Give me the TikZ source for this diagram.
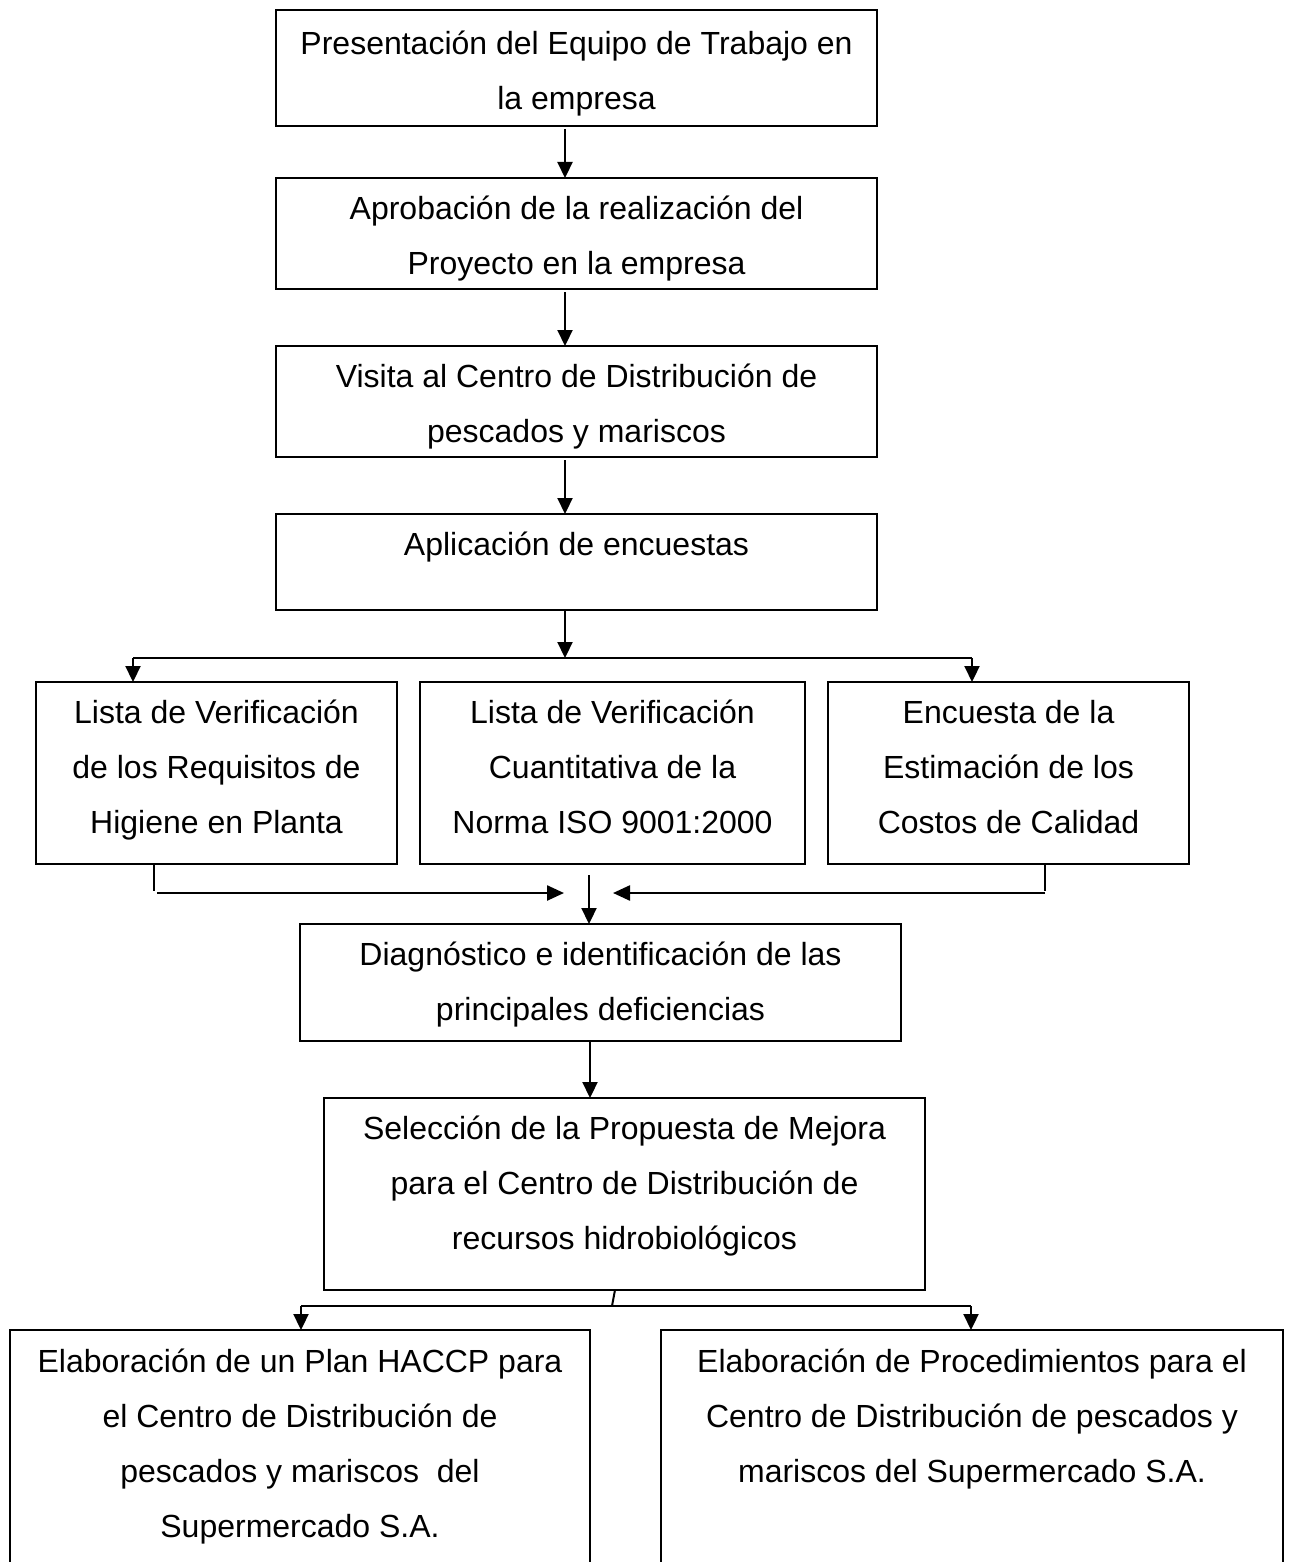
\documentclass[tikz,border=0pt]{standalone}
\usepackage{fontspec}
\setmainfont{Liberation Sans}
\usetikzlibrary{arrows.meta,calc}
\begin{document}
\begin{tikzpicture}[x=1pt,y=-1pt,
  box/.style={draw, line width=1.9pt, rectangle, inner sep=0pt, outer sep=0pt, anchor=north west},
  txt/.style={anchor=north, align=center, inner sep=0pt, font=\fontsize{32}{55}\selectfont},
  arr/.style={-{Triangle[length=16pt,width=15pt]}, line width=2.2pt},
  sidearr/.style={-{Triangle[length=17pt,width=15pt]}, line width=2.4pt},
  seg/.style={line width=2pt}]
\useasboundingbox (0,0) rectangle (1293,1562);
\clip (0,0) rectangle (1293,1562);

% boxes
\node[box, minimum width=601pt, minimum height=116pt] (b1) at (276,10) {};
\node[box, minimum width=601pt, minimum height=111pt] (b2) at (276,178) {};
\node[box, minimum width=601pt, minimum height=111pt] (b3) at (276,346) {};
\node[box, minimum width=601pt, minimum height=96pt]  (b4) at (276,514) {};
\node[box, minimum width=361pt, minimum height=182pt] (b5a) at (36,682) {};
\node[box, minimum width=385pt, minimum height=182pt] (b5b) at (420,682) {};
\node[box, minimum width=361pt, minimum height=182pt] (b5c) at (828,682) {};
\node[box, minimum width=601pt, minimum height=117pt] (b6) at (300,924) {};
\node[box, minimum width=601pt, minimum height=192pt] (b7) at (324,1098) {};
\node[box, minimum width=580pt, minimum height=260pt] (b8) at (10,1330) {};
\node[box, minimum width=622pt, minimum height=260pt] (b9) at (661,1330) {};

% texts
\node[txt] (t1) at ([yshift=-14pt]b1.north) {\rule{0pt}{30pt}Presentación del Equipo de Trabajo en\\la empresa};
\node[txt] (t2) at ([yshift=-11pt]b2.north) {\rule{0pt}{30pt}Aprobación de la realización del\\Proyecto en la empresa};
\node[txt] (t3) at ([yshift=-11pt]b3.north) {\rule{0pt}{30pt}Visita al Centro de Distribución de\\pescados y mariscos};
\node[txt] (t4) at ([yshift=-11pt]b4.north) {\rule{0pt}{30pt}Aplicación de encuestas};
\node[txt] (t5a) at ([yshift=-11pt]b5a.north) {\rule{0pt}{30pt}Lista de Verificación\\de los Requisitos de\\Higiene en Planta};
\node[txt] (t5b) at ([yshift=-11pt]b5b.north) {\rule{0pt}{30pt}Lista de Verificación\\Cuantitativa de la\\Norma ISO 9001:2000};
\node[txt] (t5c) at ([yshift=-11pt]b5c.north) {\rule{0pt}{30pt}Encuesta de la\\Estimación de los\\Costos de Calidad};
\node[txt] (t6) at ([yshift=-11pt]b6.north) {\rule{0pt}{30pt}Diagnóstico e identificación de las\\principales deficiencias};
\node[txt] (t7) at ([yshift=-11pt]b7.north) {\rule{0pt}{30pt}Selección de la Propuesta de Mejora\\para el Centro de Distribución de\\recursos hidrobiológicos};
\node[txt] (t8) at ([yshift=-12pt]b8.north) {\rule{0pt}{30pt}Elaboración de un Plan HACCP para\\el Centro de Distribución de\\pescados y mariscos\ \ del\\Supermercado S.A.};
\node[txt] (t9) at ([yshift=-12pt]b9.north) {\rule{0pt}{30pt}Elaboración de Procedimientos para el\\Centro de Distribución de pescados y\\mariscos del Supermercado S.A.};

% junction points
\coordinate (s1) at (565,658);
\coordinate (m1) at (589,875);
\coordinate (s2) at (612,1306);

% main sequence
\draw[arr] ([yshift=-3pt]b1.south -| 565,0) -- (b2.north -| 565,0);
\draw[arr] ([yshift=-3pt]b2.south -| 565,0) -- (b3.north -| 565,0);
\draw[arr] ([yshift=-3pt]b3.south -| 565,0) -- (b4.north -| 565,0);

% split towards the three surveys
\draw[arr] (b4.south -| s1) -- (s1);
\draw[seg] (133,658) -- (972,658);
\draw[arr] (133,658) -- (b5a.north -| 133,0);
\draw[arr] (972,658) -- (b5c.north -| 972,0);

% merge into the diagnosis
\draw[seg] (b5a.south -| 154,0) -- (154,891);
\draw[sidearr] (157,893) -- (564,893);
\draw[seg] (b5c.south -| 1045,0) -- (1045,891);
\draw[sidearr] (1045,893) -- (613,893);
\draw[arr] (m1) -- (b6.north -| m1);

\draw[arr] (b6.south -| 590,0) -- (b7.north -| 590,0);

% split towards the two proposals
\draw[seg] (b7.south -| 615,0) -- (s2);
\draw[seg] (301,1306) -- (971,1306);
\draw[arr] (301,1306) -- (b8.north -| 301,0);
\draw[arr] (971,1306) -- (b9.north -| 971,0);
\end{tikzpicture}
\end{document}
